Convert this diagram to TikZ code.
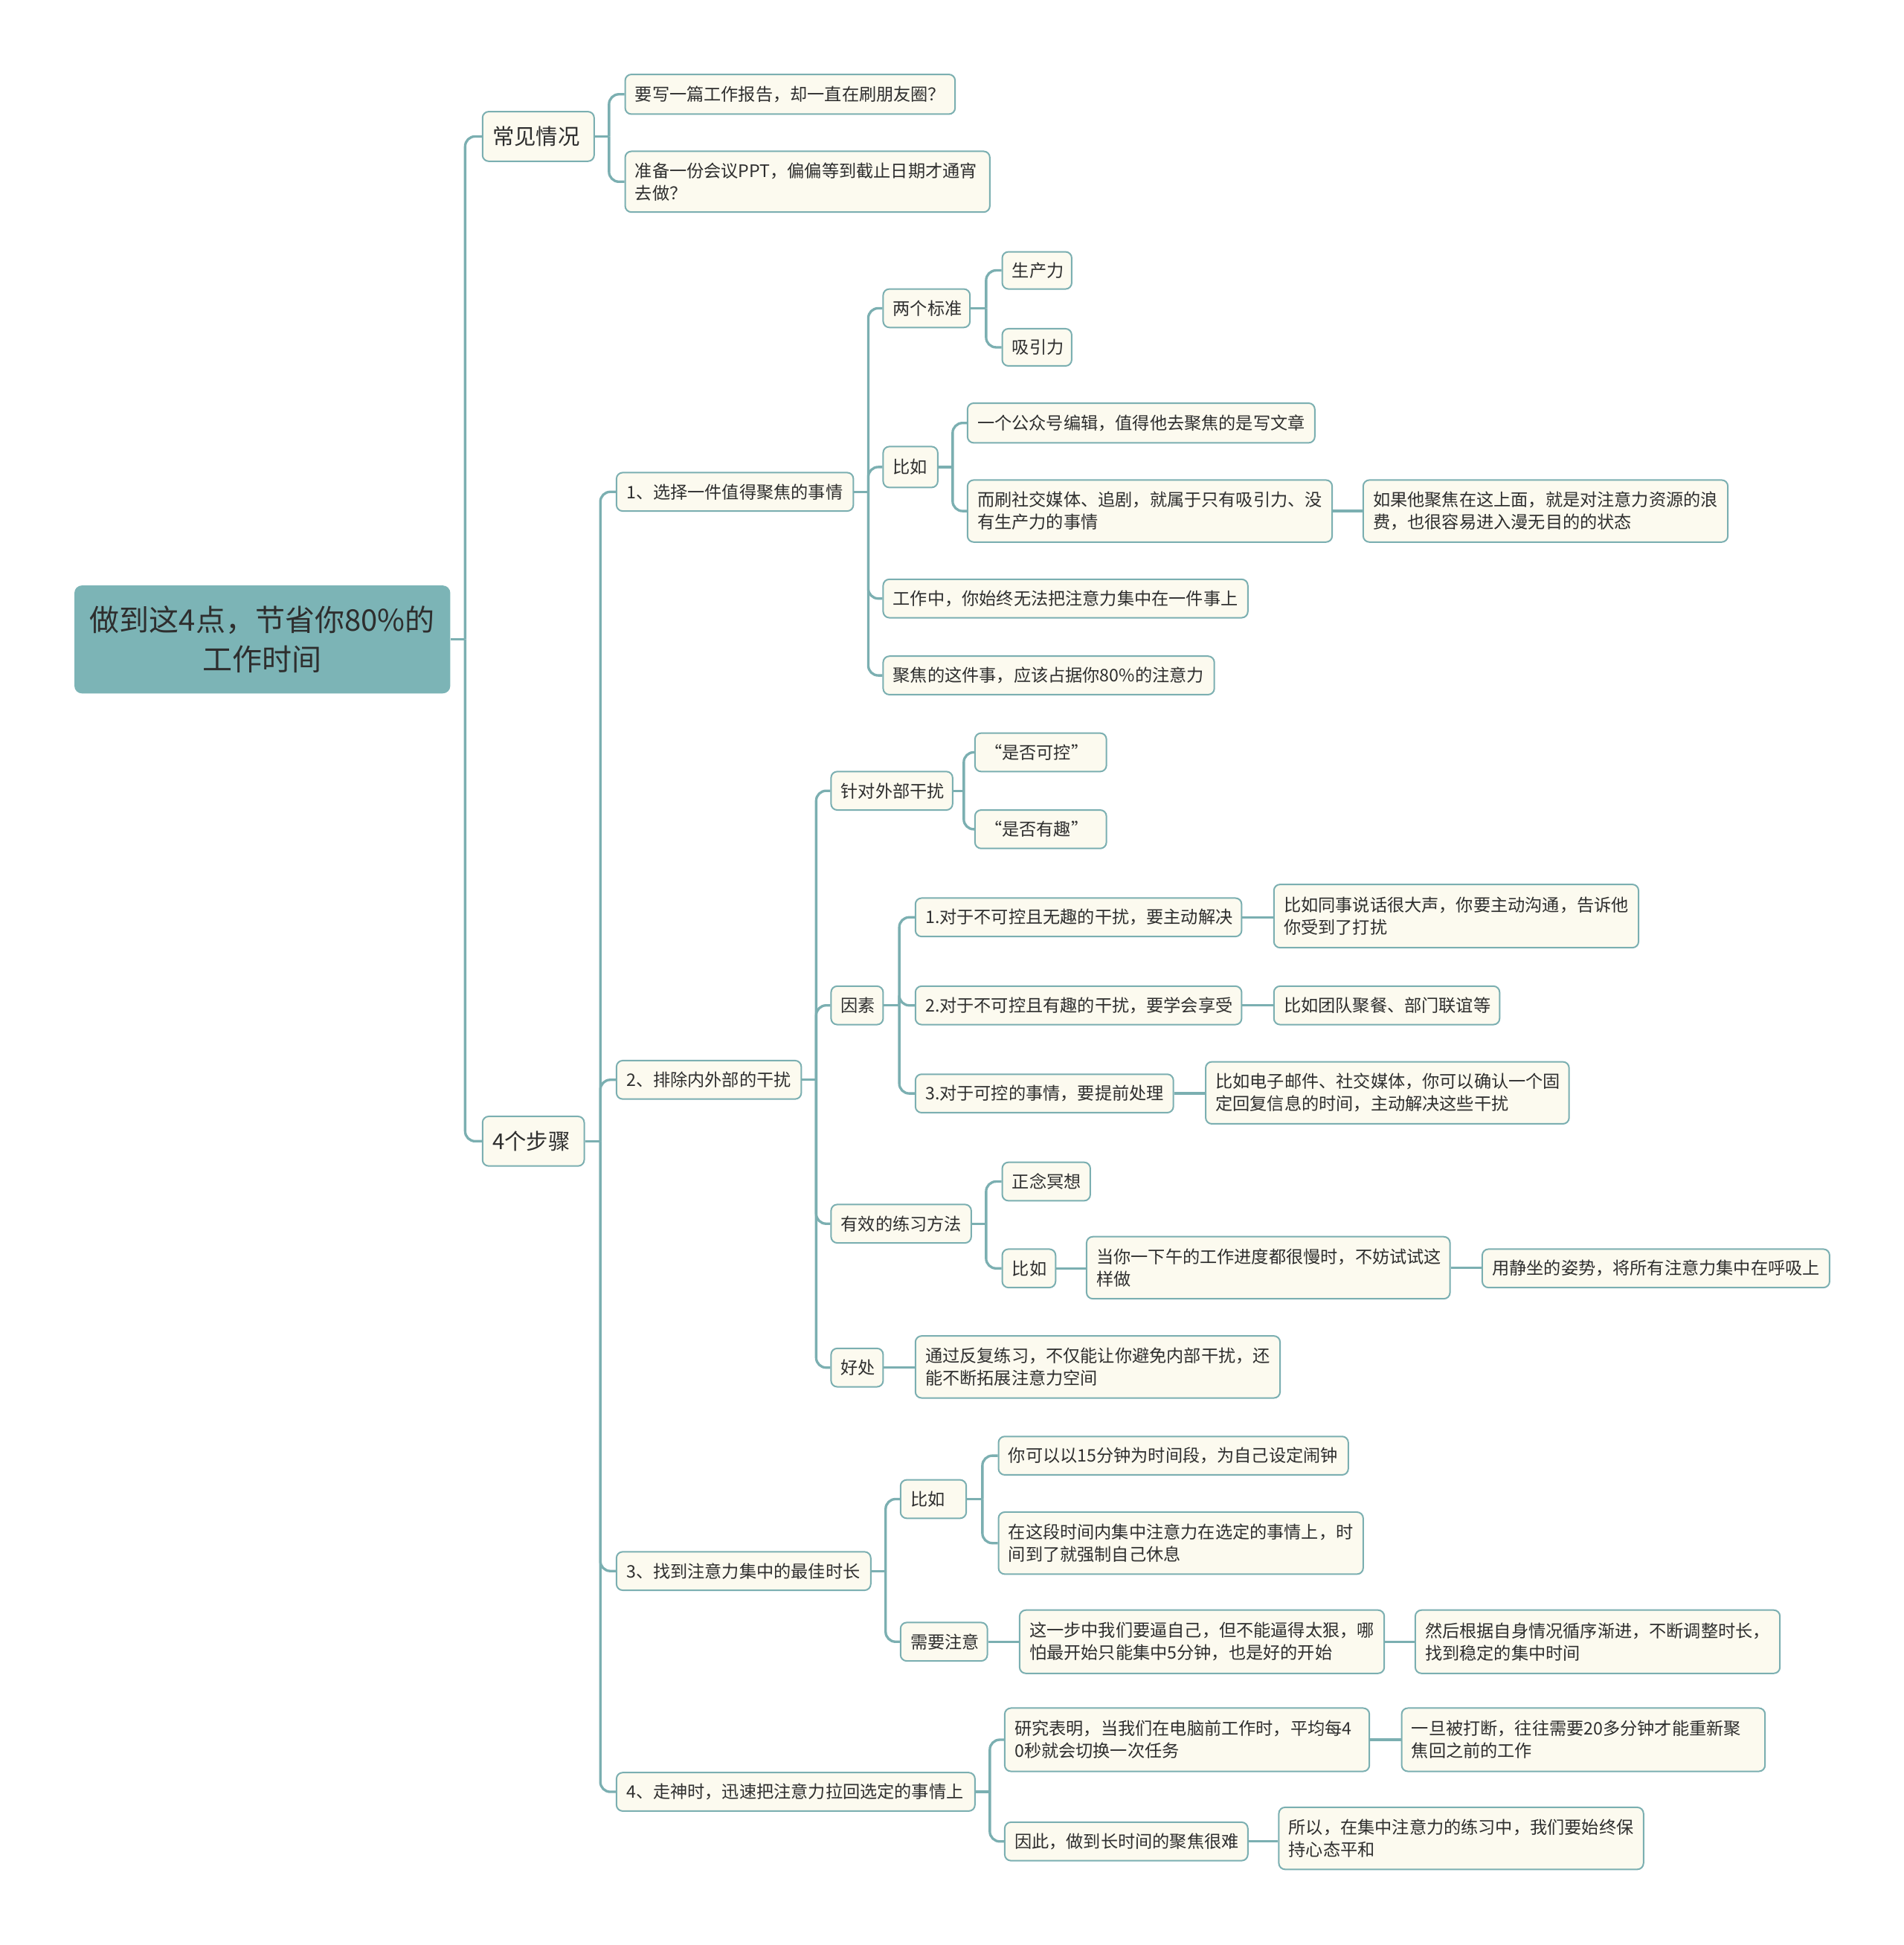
\documentclass[tikz,border=0pt]{standalone}
\usepackage{fontspec}
\setmainfont{Noto Sans CJK SC}
\definecolor{lc}{HTML}{7BAFB1}
\definecolor{cf}{HTML}{FCFAEF}
\definecolor{rootf}{HTML}{7CB4B6}
\definecolor{tc}{HTML}{2E2E2E}
\newcommand\mnode[7]{%
  \pgfmathsetmacro\mw{(#5-#3)*0.5}%
  \pgfmathsetmacro\mh{(#6-#4)*0.5}%
  \pgfmathsetmacro\tw{(#5-#3)*0.5-8}%
  \pgfmathsetmacro\cx{(#3+#5)/2}%
  \pgfmathsetmacro\cy{(#4+#6)/2}%
  \node[#1, minimum width=\mw pt, minimum height=\mh pt, text width=\tw pt] (#2) at (\cx,\cy) {#7};%
}
\newcommand\branch[3]{%
  \coordinate (tx) at (#2,0);%
  \draw[conn] (#1.east) -- (#1.east -| tx);%
  \foreach \c in {#3} {\draw[conn, rounded corners=4pt] (#1.east -| tx) |- (\c.west);}%
}
\newcommand\link[2]{\draw[conn] (#1.east) -- (#1.east -| #2.west);}
\begin{document}
\begin{tikzpicture}[x=0.5pt,y=-0.5pt,
  box/.style={draw=lc, fill=cf, line width=0.6pt, rounded corners=2.5pt, inner xsep=4pt, inner ysep=0pt, align=left, text=tc, font=\fontsize{6.95}{9}\selectfont},
  lvone/.style={box, font=\fontsize{8.8}{11}\selectfont},
  rootbox/.style={fill=rootf, draw=none, rounded corners=3pt, inner xsep=4pt, inner ysep=0pt, align=center, text=tc, font=\fontsize{12}{16}\selectfont},
  conn/.style={draw=lc, line width=1pt}]
\useasboundingbox (0,0) rectangle (1535,1568);
\fill[white] (0,0) rectangle (1535,1568);

% root
\mnode{rootbox}{root}{60}{472}{363}{559}{做到这4点，节省你80\%的\\工作时间}
% level 1
\mnode{lvone}{cj}{389}{90}{479}{130}{常见情况}
\mnode{lvone}{bz}{389}{900}{471}{940}{4个步骤}
% 常见情况 children
\mnode{box}{cja}{504}{60}{770}{92}{要写一篇工作报告，却一直在刷朋友圈？}
\mnode{box}{cjb}{504}{122}{798}{171}{准备一份会议PPT，偏偏等到截止日期才通宵\\去做？}
% steps
\mnode{box}{s1}{497}{381}{688}{412}{1、选择一件值得聚焦的事情}
\mnode{box}{s2}{497}{855}{646}{886}{2、排除内外部的干扰}
\mnode{box}{s3}{497}{1251}{702}{1282}{3、找到注意力集中的最佳时长}
\mnode{box}{s4}{497}{1429}{786}{1460}{4、走神时，迅速把注意力拉回选定的事情上}
% step 1
\mnode{box}{a1}{712}{233}{782}{264}{两个标准}
\mnode{box}{a1a}{808}{203}{864}{233}{生产力}
\mnode{box}{a1b}{808}{265}{864}{295}{吸引力}
\mnode{box}{a2}{712}{360}{756}{393}{比如}
\mnode{box}{a2a}{780}{325}{1060}{357}{一个公众号编辑，值得他去聚焦的是写文章}
\mnode{box}{a2b}{780}{387}{1074}{437}{而刷社交媒体、追剧，就属于只有吸引力、没\\有生产力的事情}
\mnode{box}{a2c}{1099}{387}{1393}{437}{如果他聚焦在这上面，就是对注意力资源的浪\\费，也很容易进入漫无目的的状态}
\mnode{box}{a3}{712}{467}{1006}{498}{工作中，你始终无法把注意力集中在一件事上}
\mnode{box}{a4}{712}{529}{979}{560}{聚焦的这件事，应该占据你80\%的注意力}
% step 2
\mnode{box}{b1}{670}{622}{768}{653}{针对外部干扰}
\mnode{box}{b1a}{786}{591}{892}{622}{“是否可控”}
\mnode{box}{b1b}{786}{653}{892}{684}{“是否有趣”}
\mnode{box}{b2}{670}{795}{712}{826}{因素}
\mnode{box}{b2a}{738}{724}{1001}{755}{1.对于不可控且无趣的干扰，要主动解决}
\mnode{box}{b2ax}{1027}{713}{1321}{764}{比如同事说话很大声，你要主动沟通，告诉他\\你受到了打扰}
\mnode{box}{b2b}{738}{795}{1001}{826}{2.对于不可控且有趣的干扰，要学会享受}
\mnode{box}{b2bx}{1027}{795}{1209}{826}{比如团队聚餐、部门联谊等}
\mnode{box}{b2c}{738}{866}{946}{897}{3.对于可控的事情，要提前处理}
\mnode{box}{b2cx}{972}{856}{1265}{906}{比如电子邮件、社交媒体，你可以确认一个固\\定回复信息的时间，主动解决这些干扰}
\mnode{box}{b3}{670}{971}{783}{1002}{有效的练习方法}
\mnode{box}{b3a}{808}{937}{879}{968}{正念冥想}
\mnode{box}{b3b}{808}{1007}{851}{1038}{比如}
\mnode{box}{b3bx}{876}{997}{1169}{1047}{当你一下午的工作进度都很慢时，不妨试试这\\样做}
\mnode{box}{b3by}{1195}{1007}{1475}{1038}{用静坐的姿势，将所有注意力集中在呼吸上}
\mnode{box}{b4}{670}{1087}{712}{1118}{好处}
\mnode{box}{b4a}{738}{1077}{1032}{1127}{通过反复练习，不仅能让你避免内部干扰，还\\能不断拓展注意力空间}
% step 3
\mnode{box}{c1}{726}{1193}{779}{1224}{比如}
\mnode{box}{c1a}{805}{1158}{1087}{1189}{你可以以15分钟为时间段，为自己设定闹钟}
\mnode{box}{c1b}{805}{1219}{1099}{1269}{在这段时间内集中注意力在选定的事情上，时\\间到了就强制自己休息}
\mnode{box}{c2}{726}{1308}{796}{1339}{需要注意}
\mnode{box}{c2a}{822}{1298}{1116}{1349}{这一步中我们要逼自己，但不能逼得太狠，哪\\怕最开始只能集中5分钟，也是好的开始}
\mnode{box}{c2b}{1141}{1298}{1435}{1349}{然后根据自身情况循序渐进，不断调整时长，\\找到稳定的集中时间}
% step 4
\mnode{box}{d1}{810}{1377}{1104}{1428}{研究表明，当我们在电脑前工作时，平均每4\\0秒就会切换一次任务}
\mnode{box}{d1a}{1130}{1377}{1423}{1428}{一旦被打断，往往需要20多分钟才能重新聚\\焦回之前的工作}
\mnode{box}{d2}{810}{1469}{1006}{1500}{因此，做到长时间的聚焦很难}
\mnode{box}{d2a}{1031}{1457}{1325}{1507}{所以，在集中注意力的练习中，我们要始终保\\持心态平和}

% connectors
\branch{root}{375}{cj,bz}
\branch{cj}{491}{cja,cjb}
\branch{bz}{484}{s1,s2,s3,s4}
\branch{s1}{700}{a1,a2,a3,a4}
\branch{a1}{795}{a1a,a1b}
\branch{a2}{768}{a2a,a2b}
\link{a2b}{a2c}
\branch{s2}{658}{b1,b2,b3,b4}
\branch{b1}{777}{b1a,b1b}
\branch{b2}{725}{b2a,b2b,b2c}
\link{b2a}{b2ax}
\link{b2b}{b2bx}
\link{b2c}{b2cx}
\branch{b3}{795}{b3a,b3b}
\link{b3b}{b3bx}
\link{b3bx}{b3by}
\link{b4}{b4a}
\branch{s3}{714}{c1,c2}
\branch{c1}{792}{c1a,c1b}
\link{c2}{c2a}
\link{c2a}{c2b}
\branch{s4}{798}{d1,d2}
\link{d1}{d1a}
\link{d2}{d2a}
\end{tikzpicture}
\end{document}
